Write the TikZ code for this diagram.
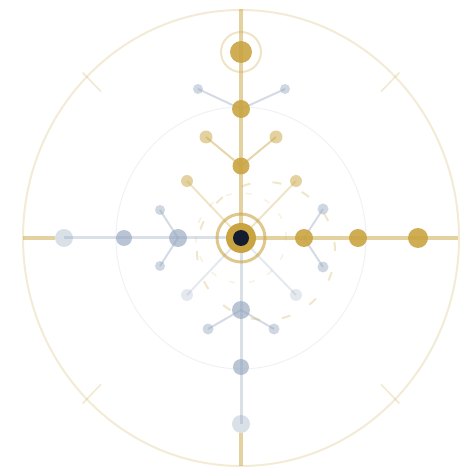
\documentclass[tikz,border=0pt]{standalone}
\usetikzlibrary{backgrounds}
\definecolor{gold}{HTML}{C9A441}
\definecolor{navy}{HTML}{141C30}
\definecolor{slate}{HTML}{94A6BE}
\begin{document}
\begin{tikzpicture}[x=1pt, y=1pt,
    golddot/.style={circle, fill=gold, fill opacity=0.9, inner sep=0pt, minimum size=#1pt},
    golddot/.default=18,
    paledot/.style={circle, fill=gold, fill opacity=0.5, inner sep=0pt, minimum size=#1pt},
    paledot/.default=12,
    slatedot/.style={circle, fill=slate, fill opacity=0.65, inner sep=0pt, minimum size=#1pt},
    slatedot/.default=18,
    leafdot/.style={circle, fill=slate, fill opacity=0.45, inner sep=0pt, minimum size=#1pt},
    leafdot/.default=11,
    trunkgold/.style={draw=gold, draw opacity=0.5, line width=4pt},
    trunkslate/.style={draw=slate, draw opacity=0.35, line width=3pt},
    twiggold/.style={draw=gold, draw opacity=0.45, line width=2pt},
    twigslate/.style={draw=slate, draw opacity=0.4, line width=2pt}]

    \useasboundingbox (-241,-238) rectangle (235,238);

    % rings and guides
    \draw[gold, draw opacity=0.22, line width=2pt] (0,0) ellipse [x radius=218, y radius=228];
    \draw[slate, draw opacity=0.15, line width=1pt] (0,0) ellipse [x radius=125, y radius=131];
    \foreach \a in {45,135,225,315}
      \draw[gold, draw opacity=0.25, line width=1.5pt] (\a:224 and 234) -- (\a:198 and 207);
    \draw[gold, draw opacity=0.28, line width=2pt, dash pattern=on 9pt off 22pt] (25,-13) circle (69);
    \draw[gold, draw opacity=0.15, line width=1.5pt, dash pattern=on 6pt off 14pt] (0,0) circle (45);

    % hub
    \node[circle, fill=gold, inner sep=0pt, minimum size=30pt] (hub) at (0,0) {};
    \node[circle, fill=navy, inner sep=0pt, minimum size=16pt] (core) at (0,0) {};
    \draw[gold, draw opacity=0.6, line width=3pt] (hub.center) circle (24);

    % upper spoke
    \node[golddot=17] (up1) at (0,72) {};
    \node[golddot] (up2) at (0,129) {};
    \node[golddot=22] (up3) at (0,186) {};
    \draw[gold, draw opacity=0.3, line width=2pt] (up3.center) circle (20);
    \coordinate (upend) at (0,229);
    \node[paledot=13] (up1a) at (-35,101) {};
    \node[paledot=13] (up1b) at (35,101) {};
    \node[leafdot=10] (up2a) at (-43,149) {};
    \node[leafdot=10] (up2b) at (44,149) {};

    % right spoke
    \node[golddot] (rt1) at (63,0) {};
    \node[golddot] (rt2) at (117,0) {};
    \node[golddot=20] (rt3) at (177,0) {};
    \coordinate (rtend) at (217,0);
    \node[leafdot] (rt1a) at (82,29) {};
    \node[leafdot] (rt1b) at (82,-29) {};

    % left spoke
    \node[slatedot] (lf1) at (-63,0) {};
    \node[slatedot=16] (lf2) at (-117,0) {};
    \node[leafdot=18, fill opacity=0.35] (lf3) at (-177,0) {};
    \coordinate (lfend) at (-218,0);
    \node[leafdot=10] (lf1a) at (-81,28) {};
    \node[leafdot=10] (lf1b) at (-81,-28) {};

    % lower spoke
    \node[slatedot] (dn1) at (0,-72) {};
    \node[slatedot=16] (dn2) at (0,-129) {};
    \node[leafdot=18, fill opacity=0.35] (dn3) at (0,-186) {};
    \coordinate (dnend) at (0,-228);
    \node[leafdot] (dn1a) at (-33,-91) {};
    \node[leafdot] (dn1b) at (33,-91) {};

    % diagonals
    \node[paledot] (dg1) at (-54,57) {};
    \node[paledot] (dg2) at (55,57) {};
    \node[leafdot=12, fill opacity=0.25] (dg3) at (-54,-57) {};
    \node[leafdot=12, fill opacity=0.25] (dg4) at (55,-57) {};

    \begin{scope}[on background layer]
      \draw[trunkgold] (hub.center) -- (up1.center) -- (up2.center) -- (up3.center) -- (upend);
      \draw[trunkgold] (hub.center) -- (rt1.center) -- (rt2.center) -- (rt3.center) -- (rtend);
      \draw[trunkslate] (hub.center) -- (lf1.center) -- (lf2.center) -- (lf3.center);
      \draw[trunkgold] (lf3) -- (lfend);
      \draw[trunkslate] (hub.center) -- (dn1.center) -- (dn2.center) -- (dn3.center);
      \draw[trunkgold] (dn3) -- (dnend);

      \draw[twiggold] (up1.center) -- (up1a.center);
      \draw[twiggold] (up1.center) -- (up1b.center);
      \draw[twigslate] (up2.center) -- (up2a.center);
      \draw[twigslate] (up2.center) -- (up2b.center);
      \draw[twigslate] (rt1.center) -- (rt1a.center);
      \draw[twigslate] (rt1.center) -- (rt1b.center);
      \draw[twigslate] (lf1.center) -- (lf1a.center);
      \draw[twigslate] (lf1.center) -- (lf1b.center);
      \draw[twigslate] (dn1.center) -- (dn1a.center);
      \draw[twigslate] (dn1.center) -- (dn1b.center);

      \draw[twiggold, draw opacity=0.3] (hub.center) -- (dg1.center);
      \draw[twiggold, draw opacity=0.3] (hub.center) -- (dg2.center);
      \draw[twigslate, draw opacity=0.25] (hub.center) -- (dg3.center);
      \draw[twigslate, draw opacity=0.25] (hub.center) -- (dg4.center);
    \end{scope}

  \end{tikzpicture}
\end{document}
